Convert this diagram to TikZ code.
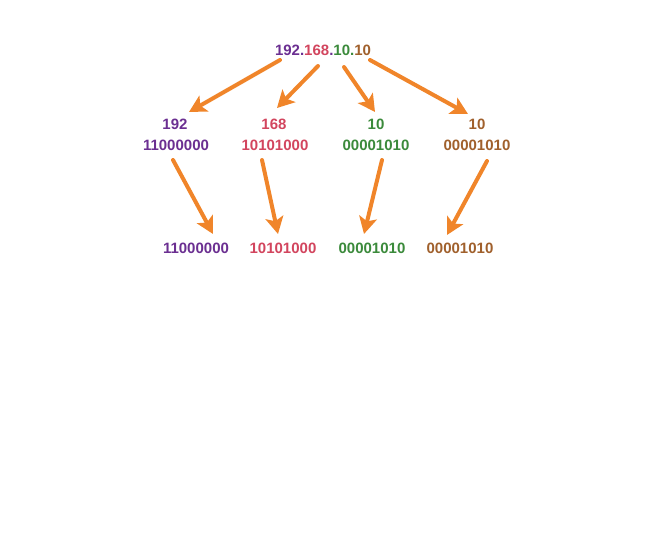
\documentclass[tikz,border=0pt]{standalone}
\usepackage{fontspec}
\setmainfont{Liberation Sans}
\usetikzlibrary{arrows.meta}
\definecolor{cpur}{HTML}{6B2F91}
\definecolor{cred}{HTML}{D2455E}
\definecolor{cgrn}{HTML}{3B8A3B}
\definecolor{cbrn}{HTML}{A0602C}
\definecolor{corg}{HTML}{F0852A}
\tikzset{
  lbl/.style={font=\fontsize{15}{17}\selectfont\bfseries, inner sep=0pt},
  arr/.style={draw=corg, fill=corg, line width=4pt, line cap=round, -{Stealth[length=17pt,width=18pt,inset=4pt,fill=corg]}},
}
\begin{document}
\begin{tikzpicture}[x=1pt,y=-1pt]
\useasboundingbox (0,0) rectangle (653,556);
\node[lbl] (ip) at (323,50) {\textcolor{cpur}{192.}\textcolor{cred}{168}\textcolor{cpur}{.}\textcolor{cgrn}{10.}\textcolor{cbrn}{10}};
\node[lbl,text=cpur] (d1) at (175,124) {192};
\node[lbl,text=cred] (d2) at (274,124) {168};
\node[lbl,text=cgrn] (d3) at (376,124) {10};
\node[lbl,text=cbrn] (d4) at (477,124) {10};
\node[lbl,text=cpur] (b1) at (176,145) {11000000};
\node[lbl,text=cred] (b2) at (275,145) {10101000};
\node[lbl,text=cgrn] (b3) at (376,145) {00001010};
\node[lbl,text=cbrn] (b4) at (477,145) {00001010};
\node[lbl,text=cpur] (r1) at (196,248) {11000000};
\node[lbl,text=cred] (r2) at (283,248) {10101000};
\node[lbl,text=cgrn] (r3) at (372,248) {00001010};
\node[lbl,text=cbrn] (r4) at (460,248) {00001010};
\coordinate (s1) at (280,60); \coordinate (t1) at (189,112);
\coordinate (s2) at (318,66); \coordinate (t2) at (277,108);
\coordinate (s3) at (344,67); \coordinate (t3) at (375,112);
\coordinate (s4) at (370,60); \coordinate (t4) at (468,114);
\coordinate (u1) at (173,160); \coordinate (v1) at (213,234);
\coordinate (u2) at (262,160); \coordinate (v2) at (278,234);
\coordinate (u3) at (382,160); \coordinate (v3) at (364,234);
\coordinate (u4) at (487,161); \coordinate (v4) at (447,235);
\foreach \i in {1,...,4}{
  \draw[arr] (s\i) -- (t\i);
  \draw[arr] (u\i) -- (v\i);
}
\end{tikzpicture}
\end{document}
